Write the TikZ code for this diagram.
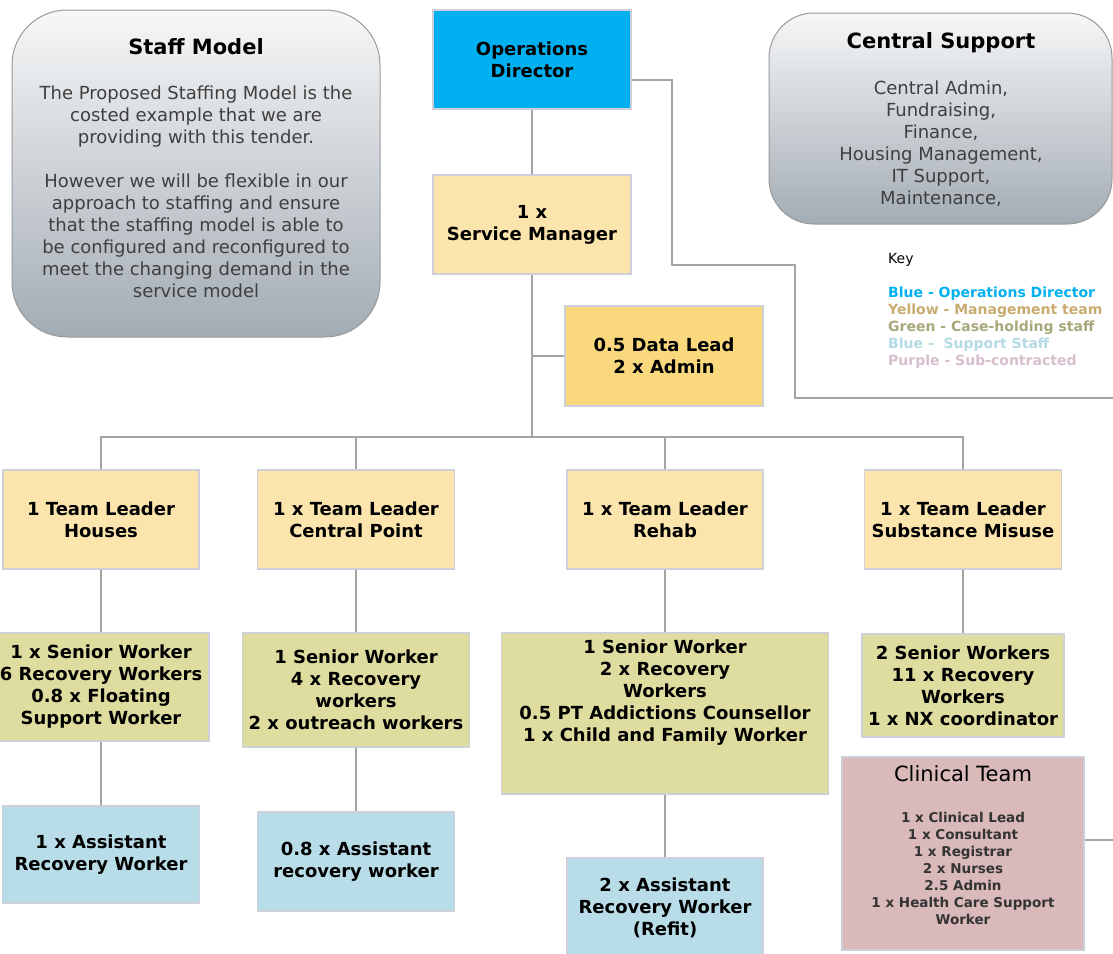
\documentclass[tikz,border=0pt]{standalone}
\usepackage{fontspec}
\setmainfont{DejaVu Sans}
\usetikzlibrary{calc}
\definecolor{opsblue}{HTML}{00B0F0}
\definecolor{mgmt}{HTML}{FCE5AD}
\definecolor{datay}{HTML}{F9D87E}
\definecolor{caseg}{HTML}{DEDC9E}
\definecolor{suppb}{HTML}{B8DDE8}
\definecolor{clinp}{HTML}{D9B9B9}
\definecolor{boxline}{HTML}{CDD0D8}
\definecolor{conn}{HTML}{A4A4A4}
\definecolor{gradtop}{HTML}{F6F7F8}
\definecolor{gradbot}{HTML}{A3ACB4}
\definecolor{bodygray}{HTML}{3F3F3F}
\definecolor{keyyellow}{HTML}{C8AC70}
\definecolor{keygreen}{HTML}{A8A87A}
\definecolor{keyblue}{HTML}{B4DAE6}
\definecolor{keypurple}{HTML}{D6BECE}
\tikzset{
  x=1pt, y=-1pt,
  orgbox/.style={draw=boxline, line width=1.2pt, inner sep=0pt, align=center,
    font=\fontsize{18}{22}\selectfont\bfseries, text=black},
  opsbox/.style={orgbox, fill=opsblue},
  mgmtbox/.style={orgbox, fill=mgmt},
  databox/.style={orgbox, fill=datay},
  casebox/.style={orgbox, fill=caseg},
  suppbox/.style={orgbox, fill=suppb},
  clinbox/.style={orgbox, fill=clinp},
  gradbox/.style={draw=gray!80, line width=1pt, top color=gradtop, bottom color=gradbot},
  conline/.style={draw=conn, line width=1.6pt},
  titletext/.style={font=\fontsize{21}{25}\selectfont\bfseries, text=black, align=center},
  bodytext/.style={font=\fontsize{18}{22}\selectfont, text=bodygray, align=center},
}
\begin{document}
\begin{tikzpicture}
\useasboundingbox (0,0) rectangle (1113,953);
\fill[white] (0,0) rectangle (1113,953);

% gradient info boxes
\draw[gradbox, rounded corners=55pt] (12,10) rectangle (380,337);
\node[titletext] (smtitle) at (196,47) {Staff Model};
\node[bodytext] (smbody) at (196,191.5) {The Proposed Staffing Model is the\\costed example that we are\\providing with this tender.\\[22pt]However we will be flexible in our\\approach to staffing and ensure\\that the staffing model is able to\\be configured and reconfigured to\\meet the changing demand in the\\service model};

\draw[gradbox, rounded corners=45pt] (769,13) rectangle (1112,224);
\node[titletext] (cstitle) at (941,43) {Central Support};
\node[bodytext] (csbody) at (941,143.5) {Central Admin,\\Fundraising,\\Finance,\\Housing Management,\\IT Support,\\Maintenance,};

% key
\node[anchor=west, font=\fontsize{14}{17}\selectfont, text=black, inner sep=0pt] (keytitle) at (888,260) {Key};
\node[anchor=west, align=left, inner sep=0pt, font=\fontsize{14}{17}\selectfont\bfseries] (keylist) at (888,328)
 {\textcolor{opsblue}{Blue - Operations Director}\\
  \textcolor{keyyellow}{Yellow - Management team}\\
  \textcolor{keygreen}{Green - Case-holding staff}\\
  \textcolor{keyblue}{Blue -\ \ Support Staff}\\
  \textcolor{keypurple}{Purple - Sub-contracted}};

% top
\node[opsbox, minimum width=198pt, minimum height=99pt] (ops) at (532,59.5) {Operations\\Director};
\node[mgmtbox, minimum width=198pt, minimum height=99pt] (sm) at (532,224.5) {1 x\\Service Manager};
\node[databox, minimum width=198pt, minimum height=100pt] (dl) at (664,356) {0.5 Data Lead\\2 x Admin};

% team leaders
\node[mgmtbox, minimum width=196pt, minimum height=99pt] (tlh) at (101,519.5) {1 Team Leader\\Houses};
\node[mgmtbox, minimum width=197pt, minimum height=99pt] (tlc) at (356,519.5) {1 x Team Leader\\Central Point};
\node[mgmtbox, minimum width=196pt, minimum height=99pt] (tlr) at (665,519.5) {1 x Team Leader\\Rehab};
\node[mgmtbox, minimum width=197pt, minimum height=99pt] (tls) at (963,519.5) {1 x Team Leader\\Substance Misuse};

% case-holding
\node[casebox, minimum width=216pt, minimum height=108pt] (swh) at (101,687) {1 x Senior Worker\\6 Recovery Workers\\0.8 x Floating\\Support Worker};
\node[casebox, minimum width=227pt, minimum height=114pt] (swc) at (356,690) {1 Senior Worker\\4 x Recovery\\workers\\2 x outreach workers};
\node[casebox, minimum width=327pt, minimum height=161pt] (swr) at (665,713.5) {};
\node[font=\fontsize{18}{22}\selectfont\bfseries, align=center, inner sep=0pt] (swrtext) at (665,692.5) {1 Senior Worker\\2 x Recovery\\Workers\\0.5 PT Addictions Counsellor\\1 x Child and Family Worker};
\node[casebox, minimum width=202pt, minimum height=103pt] (sws) at (963,685.5) {2 Senior Workers\\11 x Recovery\\Workers\\1 x NX coordinator};

% support
\node[suppbox, minimum width=197pt, minimum height=97pt] (arh) at (101,854.5) {1 x Assistant\\Recovery Worker};
\node[suppbox, minimum width=197pt, minimum height=99pt] (arc) at (356,861.5) {0.8 x Assistant\\recovery worker};
\node[suppbox, minimum width=196pt, minimum height=100pt] (arr) at (665,908) {2 x Assistant\\Recovery Worker\\(Refit)};

% clinical
\node[clinbox, minimum width=242pt, minimum height=193pt] (clin) at (963,853.5) {};
\node[font=\fontsize{21}{25}\selectfont, text=black, inner sep=0pt] (clintitle) at (963,774) {Clinical Team};
\node[font=\fontsize{13.5}{17}\selectfont\bfseries, text=black!80, align=center, inner sep=0pt] (clinbody) at (963,868.5) {1 x Clinical Lead\\1 x Consultant\\1 x Registrar\\2 x Nurses\\2.5 Admin\\1 x Health Care Support\\Worker};

% connectors
\coordinate (bus) at (532,437);
\coordinate (dlj) at (532,356);
\coordinate (keyend) at (1120,398);
\coordinate (clinend) at (1120,840);
\draw[conline] (ops.south) -- (sm.north);
\draw[conline] (sm.south) -- (bus);
\draw[conline] (dlj) -- (dl.west);
\draw[conline] (tlh.north) -- (tlh.north |- bus) -- (tls.north |- bus) -- (tls.north);
\draw[conline] (tlc.north |- bus) -- (tlc.north);
\draw[conline] (tlr.north |- bus) -- (tlr.north);
\draw[conline] ([yshift=-20.5pt]ops.east) -- (672,80) -- (672,265) -- (795,265) -- (795,398) -- (keyend);
\draw[conline] (tlh.south) -- (swh.north);
\draw[conline] (tlc.south) -- (swc.north);
\draw[conline] (tlr.south) -- (swr.north);
\draw[conline] (tls.south) -- (sws.north);
\draw[conline] (swh.south) -- (arh.north);
\draw[conline] (swc.south) -- (arc.north);
\draw[conline] (swr.south) -- (arr.north);
\draw[conline] (clin.east |- clinend) -- (clinend);
\end{tikzpicture}
\end{document}
